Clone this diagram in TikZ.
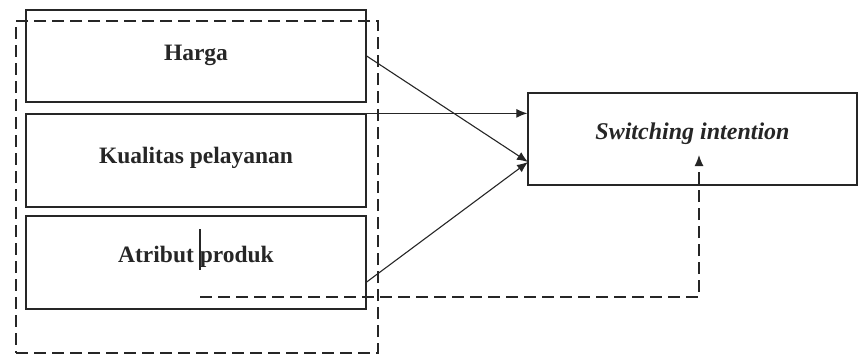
\documentclass[tikz,border=0pt]{standalone}
\usepackage{fontspec}
\setmainfont{Liberation Serif}
\usetikzlibrary{arrows.meta}

\tikzset{
  varbox/.style={draw, line width=1.3pt, minimum width=340pt, text height=15pt, text depth=15pt, font=\fontsize{23.5}{26}\selectfont\bfseries},
  dashline/.style={line width=1.2pt, dash pattern=on 12pt off 6pt},
  tip/.style={-{Latex[length=11pt,width=9pt]}}
}

\begin{document}
\begin{tikzpicture}[x=1pt, y=-1pt, line width=1.1pt, color={black!85}]
\useasboundingbox (0,0) rectangle (858,354);

\node[varbox, minimum height=92pt, text depth=7pt] (harga) at (196,56) {Harga};
\node[varbox, minimum height=93pt, text depth=9pt] (kualitas) at (196,160.5) {Kualitas pelayanan};
\node[varbox, minimum height=93pt] (atribut) at (196,262.5) {Atribut produk};
\node[dashline, draw, minimum width=362pt, minimum height=332pt] (grup) at (197,187) {};
\node[draw, line width=1.3pt, minimum width=329pt, minimum height=92pt, text height=15pt, text depth=14pt, font=\fontsize{24}{26}\selectfont\bfseries\itshape] (switch) at (692.5,139) {Switching intention};

\coordinate (meet) at (528,162);
\coordinate (dstart) at (200,297);
\coordinate (dend) at (699,155);

\draw (200,229) -- (200,270);

\path[tip] (harga.east) edge (meet)
	(atribut.east |- 0,282) edge (meet)
	(kualitas.north east) edge (kualitas.north east -| switch.west);
\draw[tip, dashline] (dstart) -| (dend);

\end{tikzpicture}
\end{document}
